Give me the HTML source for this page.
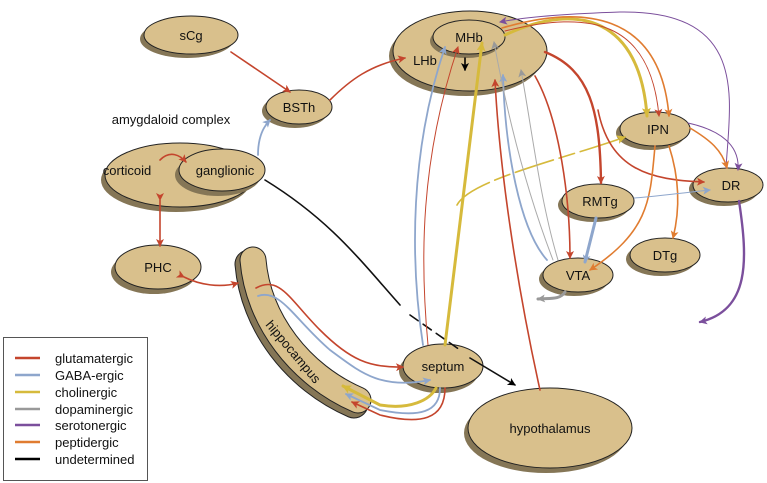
<!DOCTYPE html>
<html><head><meta charset="utf-8"><style>
html,body{margin:0;padding:0;background:#fff}
svg{display:block}
text{font-family:"Liberation Sans",sans-serif;font-size:13px;fill:#111}
</style></head><body>
<svg width="767" height="483" viewBox="0 0 767 483" xmlns="http://www.w3.org/2000/svg">
<defs>
<marker id="r" markerWidth="8" markerHeight="8" refX="7" refY="4" orient="auto" markerUnits="userSpaceOnUse"><path d="M0,0L8,4L0,8L2,4z" fill="#c4452d"/></marker>
<marker id="b" markerWidth="8" markerHeight="8" refX="7" refY="4" orient="auto" markerUnits="userSpaceOnUse"><path d="M0,0L8,4L0,8L2,4z" fill="#8ea6cc"/></marker>
<marker id="y" markerWidth="9" markerHeight="9" refX="8" refY="4.5" orient="auto" markerUnits="userSpaceOnUse"><path d="M0,0L9,4.5L0,9L2,4.5z" fill="#d6ba3c"/></marker>
<marker id="g" markerWidth="8" markerHeight="8" refX="7" refY="4" orient="auto" markerUnits="userSpaceOnUse"><path d="M0,0L8,4L0,8L2,4z" fill="#999"/></marker>
<marker id="p" markerWidth="8" markerHeight="8" refX="7" refY="4" orient="auto" markerUnits="userSpaceOnUse"><path d="M0,0L8,4L0,8L2,4z" fill="#7b4f9c"/></marker>
<marker id="o" markerWidth="8" markerHeight="8" refX="7" refY="4" orient="auto" markerUnits="userSpaceOnUse"><path d="M0,0L8,4L0,8L2,4z" fill="#e07c30"/></marker>
<marker id="k" markerWidth="8" markerHeight="8" refX="7" refY="4" orient="auto" markerUnits="userSpaceOnUse"><path d="M0,0L8,4L0,8L2,4z" fill="#000"/></marker>
</defs>
<!-- hippocampus band -->
<g fill="none" stroke-linecap="round">
<path d="M253,260 C258,320 300,375 358,400" stroke="#222" stroke-width="29" transform="translate(-4,4)"/>
<path d="M253,260 C258,320 300,375 358,400" stroke="#857656" stroke-width="27" transform="translate(-4,4)"/>
<path d="M253,260 C258,320 300,375 358,400" stroke="#222" stroke-width="27"/>
<path d="M253,260 C258,320 300,375 358,400" stroke="#d9c08c" stroke-width="25"/>
</g>
<g stroke="#222" stroke-width="1">
<g fill="#857656" stroke="none">
<ellipse cx="187" cy="39" rx="47" ry="19"/>
<ellipse cx="295" cy="111" rx="33" ry="17"/>
<ellipse cx="176" cy="180" rx="75" ry="32"/>
<ellipse cx="154" cy="272" rx="43" ry="22"/>
<ellipse cx="439" cy="371" rx="40" ry="22"/>
<ellipse cx="546" cy="433" rx="82" ry="40"/>
<ellipse cx="466" cy="56" rx="77" ry="40"/>
<ellipse cx="651" cy="133" rx="35" ry="17"/>
<ellipse cx="724" cy="189" rx="35" ry="17"/>
<ellipse cx="594" cy="205" rx="36" ry="17"/>
<ellipse cx="661" cy="259" rx="35" ry="17"/>
<ellipse cx="574" cy="279" rx="35" ry="17"/>
</g>
<g fill="#d9c08c">
<ellipse cx="191" cy="35" rx="47" ry="19"/>
<ellipse cx="299" cy="107" rx="33" ry="17"/>
<ellipse cx="180" cy="175" rx="75" ry="32"/>
<ellipse cx="158" cy="267" rx="43" ry="22"/>
<ellipse cx="443" cy="366" rx="40" ry="22"/>
<ellipse cx="550" cy="428" rx="82" ry="40"/>
<ellipse cx="470" cy="51" rx="77" ry="40"/>
<ellipse cx="655" cy="129" rx="35" ry="17"/>
<ellipse cx="728" cy="185" rx="35" ry="17"/>
<ellipse cx="598" cy="201" rx="36" ry="17"/>
<ellipse cx="665" cy="255" rx="35" ry="17"/>
<ellipse cx="578" cy="275" rx="35" ry="17"/>
</g>
<ellipse cx="218" cy="175" rx="43" ry="21" fill="#857656" stroke="none"/>
<ellipse cx="222" cy="170" rx="43" ry="21" fill="#d9c08c"/>
<ellipse cx="466" cy="41" rx="36" ry="17" fill="#857656" stroke="none"/>
<ellipse cx="469" cy="37" rx="36" ry="17" fill="#d9c08c"/>
</g>
<g fill="none" stroke-linecap="round">
<path d="M231,52 L290,92" stroke="#c4452d" stroke-width="1.6" marker-end="url(#r)"/>
<path d="M330,100 C350,80 370,65 405,58" stroke="#c4452d" stroke-width="1.6" marker-end="url(#r)"/>
<path d="M258,155 C258,140 262,128 270,120" stroke="#8ea6cc" stroke-width="1.8" marker-end="url(#b)"/>
<path d="M160,160 C170,150 180,155 186,162" stroke="#c4452d" stroke-width="1.6" marker-end="url(#r)"/>
<path d="M160,200 L160,246" stroke="#c4452d" stroke-width="1.6" marker-end="url(#r)" marker-start="url(#r)"/>
<path d="M184,277 C200,285 220,288 238,283" stroke="#c4452d" stroke-width="1.6" marker-end="url(#r)" marker-start="url(#r)"/>
<path d="M265,180 C330,220 360,260 400,305" stroke="#111" stroke-width="1.6"/>
<path d="M410,315 L460,350" stroke="#111" stroke-width="1.6" stroke-dasharray="10,6"/>
<path d="M470,358 L515,385" stroke="#111" stroke-width="1.6" marker-end="url(#k)"/>
<path d="M256,288 C280,275 290,300 320,330 C350,360 370,368 403,367" stroke="#c4452d" stroke-width="1.6" marker-end="url(#r)"/>
<path d="M258,296 C280,288 295,320 330,350 C360,372 380,390 430,380" stroke="#8ea6cc" stroke-width="1.8" marker-end="url(#b)"/>
<path d="M436,388 C430,400 410,410 380,405 L343,386" stroke="#d6ba3c" stroke-width="3" marker-end="url(#y)"/>
<path d="M440,388 C440,412 420,418 380,410 L346,394" stroke="#8ea6cc" stroke-width="1.8" marker-end="url(#b)"/>
<path d="M445,388 C445,420 420,425 380,415 L352,402" stroke="#c4452d" stroke-width="1.6" marker-end="url(#r)"/>
<path d="M423,345 C410,260 410,150 445,47" stroke="#8ea6cc" stroke-width="1.8" marker-end="url(#b)"/>
<path d="M428,345 C420,260 420,160 458,47" stroke="#c4452d" stroke-width="1" marker-end="url(#r)"/>
<path d="M445,345 L482,43" stroke="#d6ba3c" stroke-width="3" marker-end="url(#y)"/>
<path d="M457,205 C470,180 560,160 625,137" stroke="#d6ba3c" stroke-width="1.6" stroke-dasharray="40,6,16,6" marker-end="url(#y)"/>
<path d="M540,390 C520,300 500,180 495,80" stroke="#c4452d" stroke-width="1.6" marker-end="url(#r)"/>
<path d="M547,260 C520,230 505,150 503,75" stroke="#8ea6cc" stroke-width="1.8" marker-end="url(#b)"/>
<path d="M553,260 C530,200 510,130 494,42" stroke="#aaa" stroke-width="1" marker-end="url(#g)"/>
<path d="M558,260 C540,200 532,130 521,70" stroke="#aaa" stroke-width="1" marker-end="url(#g)"/>
<path d="M535,76 C560,120 570,200 570,258" stroke="#c4452d" stroke-width="1.6" marker-end="url(#r)"/>
<path d="M545,52 C590,70 600,110 601,183" stroke="#c4452d" stroke-width="2.4" marker-end="url(#r)"/>
<path d="M598,110 C610,170 650,180 704,182" stroke="#c4452d" stroke-width="1.6" marker-end="url(#r)"/>
<path d="M505,35 C580,0 640,20 647,116" stroke="#d6ba3c" stroke-width="3" marker-end="url(#y)"/>
<path d="M502,28 C580,5 660,10 669,116" stroke="#e07c30" stroke-width="1.6" marker-end="url(#o)"/>
<path d="M505,31 C590,10 650,20 659,116" stroke="#c4452d" stroke-width="1" marker-end="url(#r)"/>
<path d="M726,168 C730,100 750,10 620,12 C560,14 520,18 500,22" stroke="#7b4f9c" stroke-width="1" marker-end="url(#p)"/>
<path d="M688,123 C720,130 740,145 738,170" stroke="#7b4f9c" stroke-width="1" marker-end="url(#p)"/>
<path d="M690,128 C710,140 722,150 727,168" stroke="#e07c30" stroke-width="1.6" marker-end="url(#o)"/>
<path d="M655,146 C650,200 650,230 590,270" stroke="#e07c30" stroke-width="1.6" marker-end="url(#o)"/>
<path d="M669,146 C680,180 680,210 673,238" stroke="#e07c30" stroke-width="1.6" marker-end="url(#o)"/>
<path d="M634,198 C660,196 690,192 710,190" stroke="#8ea6cc" stroke-width="1" marker-end="url(#b)"/>
<path d="M596,218 L585,262" stroke="#8ea6cc" stroke-width="3" marker-end="url(#b)"/>
<path d="M565,292 C560,300 550,298 538,299" stroke="#999" stroke-width="3" marker-end="url(#g)"/>
<path d="M739,201 C748,260 750,310 700,322" stroke="#7b4f9c" stroke-width="2.4" marker-end="url(#p)"/>
<path d="M465,58 L465,70" stroke="#000" stroke-width="1.6" marker-end="url(#k)"/>
</g>
<text x="191" y="40" text-anchor="middle">sCg</text>
<text x="299" y="112" text-anchor="middle">BSTh</text>
<text x="171" y="124" text-anchor="middle">amygdaloid complex</text>
<text x="127" y="175" text-anchor="middle">corticoid</text>
<text x="225" y="175" text-anchor="middle">ganglionic</text>
<text x="158" y="272" text-anchor="middle">PHC</text>
<text x="443" y="371" text-anchor="middle">septum</text>
<text x="550" y="433" text-anchor="middle">hypothalamus</text>
<text x="425" y="65" text-anchor="middle">LHb</text>
<text x="469" y="42" text-anchor="middle">MHb</text>
<text x="658" y="134" text-anchor="middle">IPN</text>
<text x="731" y="190" text-anchor="middle">DR</text>
<text x="600" y="206" text-anchor="middle">RMTg</text>
<text x="665" y="260" text-anchor="middle">DTg</text>
<text x="578" y="280" text-anchor="middle">VTA</text>
<text x="0" y="0" transform="translate(265,325) rotate(50)">hippocampus</text>
<rect x="3.5" y="337.5" width="144" height="143" fill="#fff" stroke="#555"/>
<g stroke-width="2.5">
<line x1="15" y1="358" x2="40" y2="358" stroke="#c4452d"/>
<line x1="15" y1="375" x2="40" y2="375" stroke="#8ea6cc"/>
<line x1="15" y1="392" x2="40" y2="392" stroke="#d6ba3c"/>
<line x1="15" y1="409" x2="40" y2="409" stroke="#999"/>
<line x1="15" y1="425" x2="40" y2="425" stroke="#7b4f9c"/>
<line x1="15" y1="442" x2="40" y2="442" stroke="#e07c30"/>
<line x1="15" y1="459" x2="40" y2="459" stroke="#000"/>
</g>
<g>
<text x="55" y="363">glutamatergic</text>
<text x="55" y="380">GABA-ergic</text>
<text x="55" y="397">cholinergic</text>
<text x="55" y="414">dopaminergic</text>
<text x="55" y="430">serotonergic</text>
<text x="55" y="447">peptidergic</text>
<text x="55" y="464">undetermined</text>
</g>
</svg>
</body></html>
